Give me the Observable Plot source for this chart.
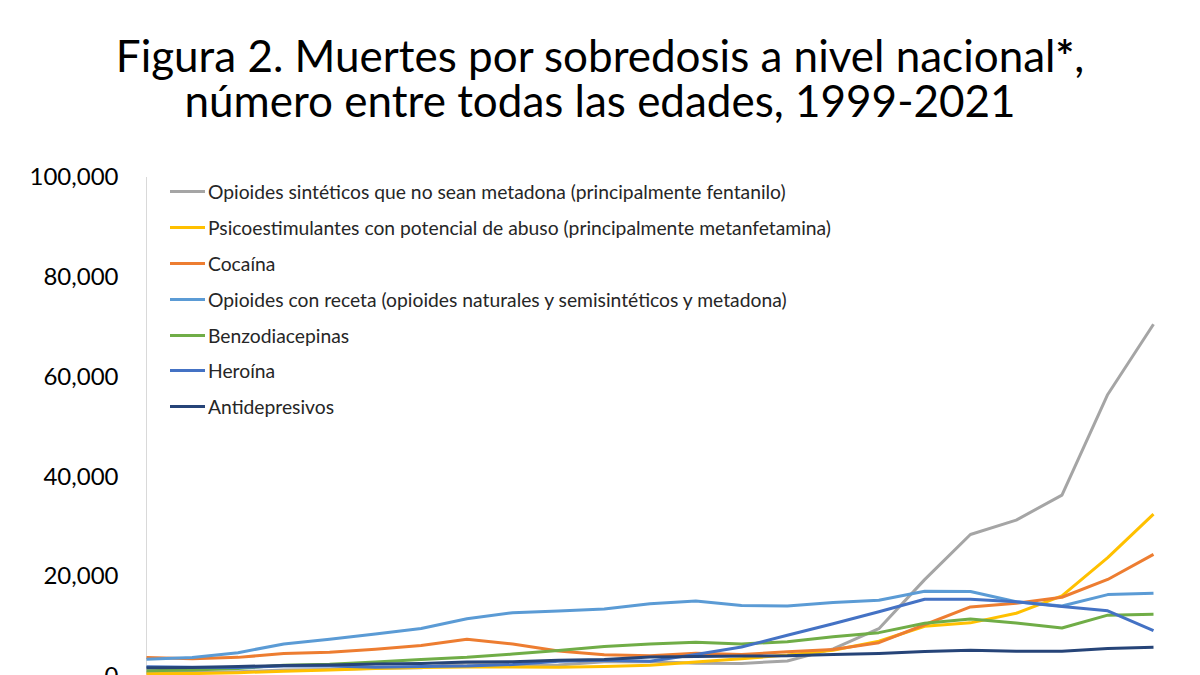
<!DOCTYPE html>
<html>
<head>
<meta charset="utf-8">
<script src="https://cdn.jsdelivr.net/npm/d3@7"></script>
<script src="https://cdn.jsdelivr.net/npm/@observablehq/plot@0.6"></script>
<style>
  html, body { margin: 0; padding: 0; background: #fff; overflow: hidden; }
  body { width: 1200px; height: 675px; position: relative; font-family: Lato, "Open Sans", sans-serif; }
  .tline { position: absolute; left: 0; width: 1200px; text-align: center; font-size: 44px; line-height: 44px; height: 44px; color: #000; white-space: nowrap; }
  #t1 { top: 33px; }
  #t2 { top: 78px; }
  #chart { position: absolute; left: 0; top: 140px; }
  #legend { position: absolute; left: 170px; top: 174px; font-size: 19.3px; color: #262626; }
  .row { display: flex; align-items: center; height: 35.8px; }
  .sw { width: 35px; height: 3px; margin-right: 3px; }
</style>
</head>
<body>
<div id="t1" class="tline">Figura 2. Muertes por sobredosis a nivel nacional<b>*</b>,</div>
<div id="t2" class="tline">número entre todas las edades, 1999-2021</div>
<div id="chart"></div>
<div id="legend"></div>
<script>
const years = d3.range(1999, 2022);
const seriesNames = [
  "Opioides sintéticos que no sean metadona (principalmente fentanilo)",
  "Psicoestimulantes con potencial de abuso (principalmente metanfetamina)",
  "Cocaína",
  "Opioides con receta (opioides naturales y semisintéticos y metadona)",
  "Benzodiacepinas",
  "Heroína",
  "Antidepresivos"
];
const seriesColors = ["#A5A5A5", "#FFC000", "#ED7D31", "#5B9BD5", "#70AD47", "#4472C4", "#264478"];
const synthetic = [730, 782, 957, 1295, 1400, 1664, 1742, 2707, 2213, 2306, 2946, 3007, 2666, 2628, 3105, 5544, 9580, 19413, 28466, 31335, 36359, 56516, 70601];
const psychostim = [547, 578, 771, 1073, 1278, 1612, 1809, 1886, 1924, 1874, 2000, 2266, 2913, 3580, 4298, 5280, 7068, 10063, 10749, 12677, 16167, 23837, 32537];
const cocaine = [3822, 3544, 3833, 4599, 4867, 5443, 6208, 7448, 6512, 5129, 4350, 4183, 4681, 4404, 4944, 5415, 6784, 10375, 13942, 14666, 15883, 19447, 24486];
const prescription = [3442, 3785, 4770, 6528, 7456, 8517, 9612, 11589, 12796, 13149, 13523, 14583, 15140, 14240, 14145, 14838, 15281, 17087, 17029, 14975, 14139, 16416, 16706];
const benzo = [1135, 1298, 1594, 2279, 2470, 2901, 3394, 3835, 4495, 5229, 6006, 6497, 6872, 6524, 6973, 7945, 8791, 10684, 11537, 10724, 9711, 12290, 12499];
const heroin = [1960, 1842, 1779, 2089, 2080, 1878, 2009, 2088, 2399, 3041, 3278, 3036, 4397, 5925, 8257, 10574, 12989, 15469, 15482, 14996, 14019, 13165, 9173];
const antidep = [1749, 1803, 2000, 2209, 2303, 2526, 2610, 2896, 2957, 3273, 3411, 3889, 4019, 4103, 4145, 4412, 4629, 4999, 5269, 5064, 5081, 5597, 5863];
const yTicks = [0, 20000, 40000, 60000, 80000, 100000];

const allSeries = [synthetic, psychostim, cocaine, prescription, benzo, heroin, antidep];
const data = [];
allSeries.forEach((vals, i) => vals.forEach((v, j) => data.push({year: years[j], value: v, series: seriesNames[i]})));

const plot = Plot.plot({
  width: 1200,
  height: 560,
  marginLeft: 146,
  marginRight: 47,
  marginTop: 37,
  marginBottom: 24,
  style: {fontFamily: "Lato, 'Open Sans', sans-serif", background: "#fff", overflow: "visible"},
  x: {domain: [1999, 2021], axis: null},
  y: {domain: [0, 100000], axis: null},
  color: {domain: seriesNames, range: seriesColors},
  marks: [
    Plot.axisY({ticks: yTicks, tickFormat: d3.format(","), tickSize: 0, tickPadding: 28, label: null, fontSize: 24, fill: "#000"}),
    Plot.ruleX([1999], {stroke: "#d9d9d9", strokeWidth: 1}),
    Plot.line(data, {x: "year", y: "value", z: "series", stroke: "series", strokeWidth: 3, strokeLinejoin: "round", strokeLinecap: "butt"})
  ]
});
document.getElementById("chart").appendChild(plot);

const legend = document.getElementById("legend");
seriesNames.forEach((name, i) => {
  const row = document.createElement("div");
  row.className = "row";
  const sw = document.createElement("div");
  sw.className = "sw";
  sw.style.background = seriesColors[i];
  const tx = document.createElement("span");
  tx.textContent = name;
  row.appendChild(sw);
  row.appendChild(tx);
  legend.appendChild(row);
});
</script>
</body>
</html>
